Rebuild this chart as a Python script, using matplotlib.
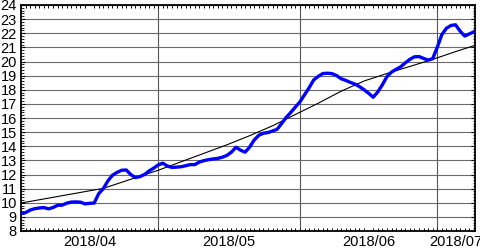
import numpy as np
import matplotlib
matplotlib.use("Agg")
import matplotlib.pyplot as plt
import matplotlib.dates as mdates
from matplotlib.ticker import MultipleLocator

plt.rcParams['font.family'] = ['Liberation Sans', 'DejaVu Sans']

start_date = "2018-04-01"
observed = [
    9.25, 9.30, 9.48, 9.58, 9.63, 9.66, 9.57, 9.66, 9.82, 9.83,
    9.97, 10.05, 10.06, 10.04, 9.92, 9.96, 9.98, 10.65, 11.00, 11.55,
    11.95, 12.15, 12.30, 12.32, 12.00, 11.78, 11.85, 12.00, 12.25, 12.45,
    12.68, 12.80, 12.60, 12.50, 12.52, 12.55, 12.62, 12.70, 12.70, 12.88,
    12.98, 13.05, 13.10, 13.14, 13.22, 13.35, 13.58, 13.93, 13.72, 13.58,
    13.95, 14.45, 14.78, 14.92, 14.97, 15.08, 15.20, 15.62, 16.05, 16.40,
    16.78, 17.15, 17.65, 18.15, 18.70, 18.95, 19.15, 19.17, 19.14, 19.00,
    18.78, 18.66, 18.52, 18.40, 18.22, 18.00, 17.75, 17.47, 17.85, 18.35,
    18.93, 19.25, 19.45, 19.62, 19.90, 20.15, 20.33, 20.35, 20.22, 20.10,
    20.20, 21.00, 21.90, 22.35, 22.55, 22.60, 22.15, 21.80, 21.95, 22.10,
]
trend_day = [0, 9, 18, 21, 25, 30, 35, 40, 45, 50, 55, 60, 65, 70, 75, 80, 85, 90, 95, 99.3]
trend_val = [9.98, 10.50, 11.02, 11.34, 11.77, 12.30, 12.90, 13.50, 14.10, 14.75,
             15.45, 16.25, 17.05, 17.90, 18.62, 19.15, 19.65, 20.15, 20.70, 21.15]
month_labels = ["2018/04", "2018/05", "2018/06", "2018/07"]
month_starts = ["2018-04-01", "2018-05-01", "2018-06-01", "2018-07-01"]

t0 = mdates.date2num(np.datetime64(start_date))
x_obs = t0 + np.arange(len(observed))
x_trend = t0 + np.array(trend_day)
xmin, xmax = t0, t0 + 99.25

fig = plt.figure(figsize=(4.81, 2.48), dpi=100)
ax = fig.add_axes([21/481, 1-231/248, (475-21)/481, (231-5)/248])

ax.set_xlim(xmin, xmax)
ax.set_ylim(8, 24)

# horizontal grid
ax.yaxis.set_major_locator(MultipleLocator(1))
ax.yaxis.set_minor_locator(MultipleLocator(0.2))
ax.grid(axis='y', which='major', color='#6a6a6a', lw=0.8)
ms = [mdates.date2num(np.datetime64(m)) for m in month_starts]
for m in ms[1:]:
    ax.axvline(m, color='#555555', lw=0.8, zorder=1)

ax.plot(x_trend, trend_val, color='black', lw=0.8, zorder=3)
ax.plot(x_obs, observed, color='#0000ff', lw=2.4, zorder=4, solid_joinstyle='round')

# x ticks: daily minor ticks, labels centered in month intervals
ax.xaxis.set_minor_locator(MultipleLocator(1))
bounds = ms + [xmax]
label_pos = []
for i in range(len(month_labels)):
    a, b = bounds[i], min(bounds[i + 1], xmax)
    label_pos.append((a + b) / 2)
ax.set_xticks(label_pos)
ax.set_xticklabels(month_labels)
ax.tick_params(axis='x', which='major', length=0, pad=3, labelsize=10.5)
ax.tick_params(axis='x', which='minor', direction='in', length=2.5, width=0.7, top=True, bottom=True)
ax.tick_params(axis='y', which='major', direction='in', length=3, width=0.8, pad=3,
               labelsize=10.5, left=True, right=True)
ax.tick_params(axis='y', which='minor', direction='in', length=1.8, width=0.6, left=True, right=True)
ax.set_yticks(np.arange(8, 25, 1))
ax.set_yticklabels([str(v) for v in range(8, 25)])

for s in ax.spines.values():
    s.set_linewidth(1.3)
    s.set_color('black')

fig.savefig("out.png", dpi=100)
